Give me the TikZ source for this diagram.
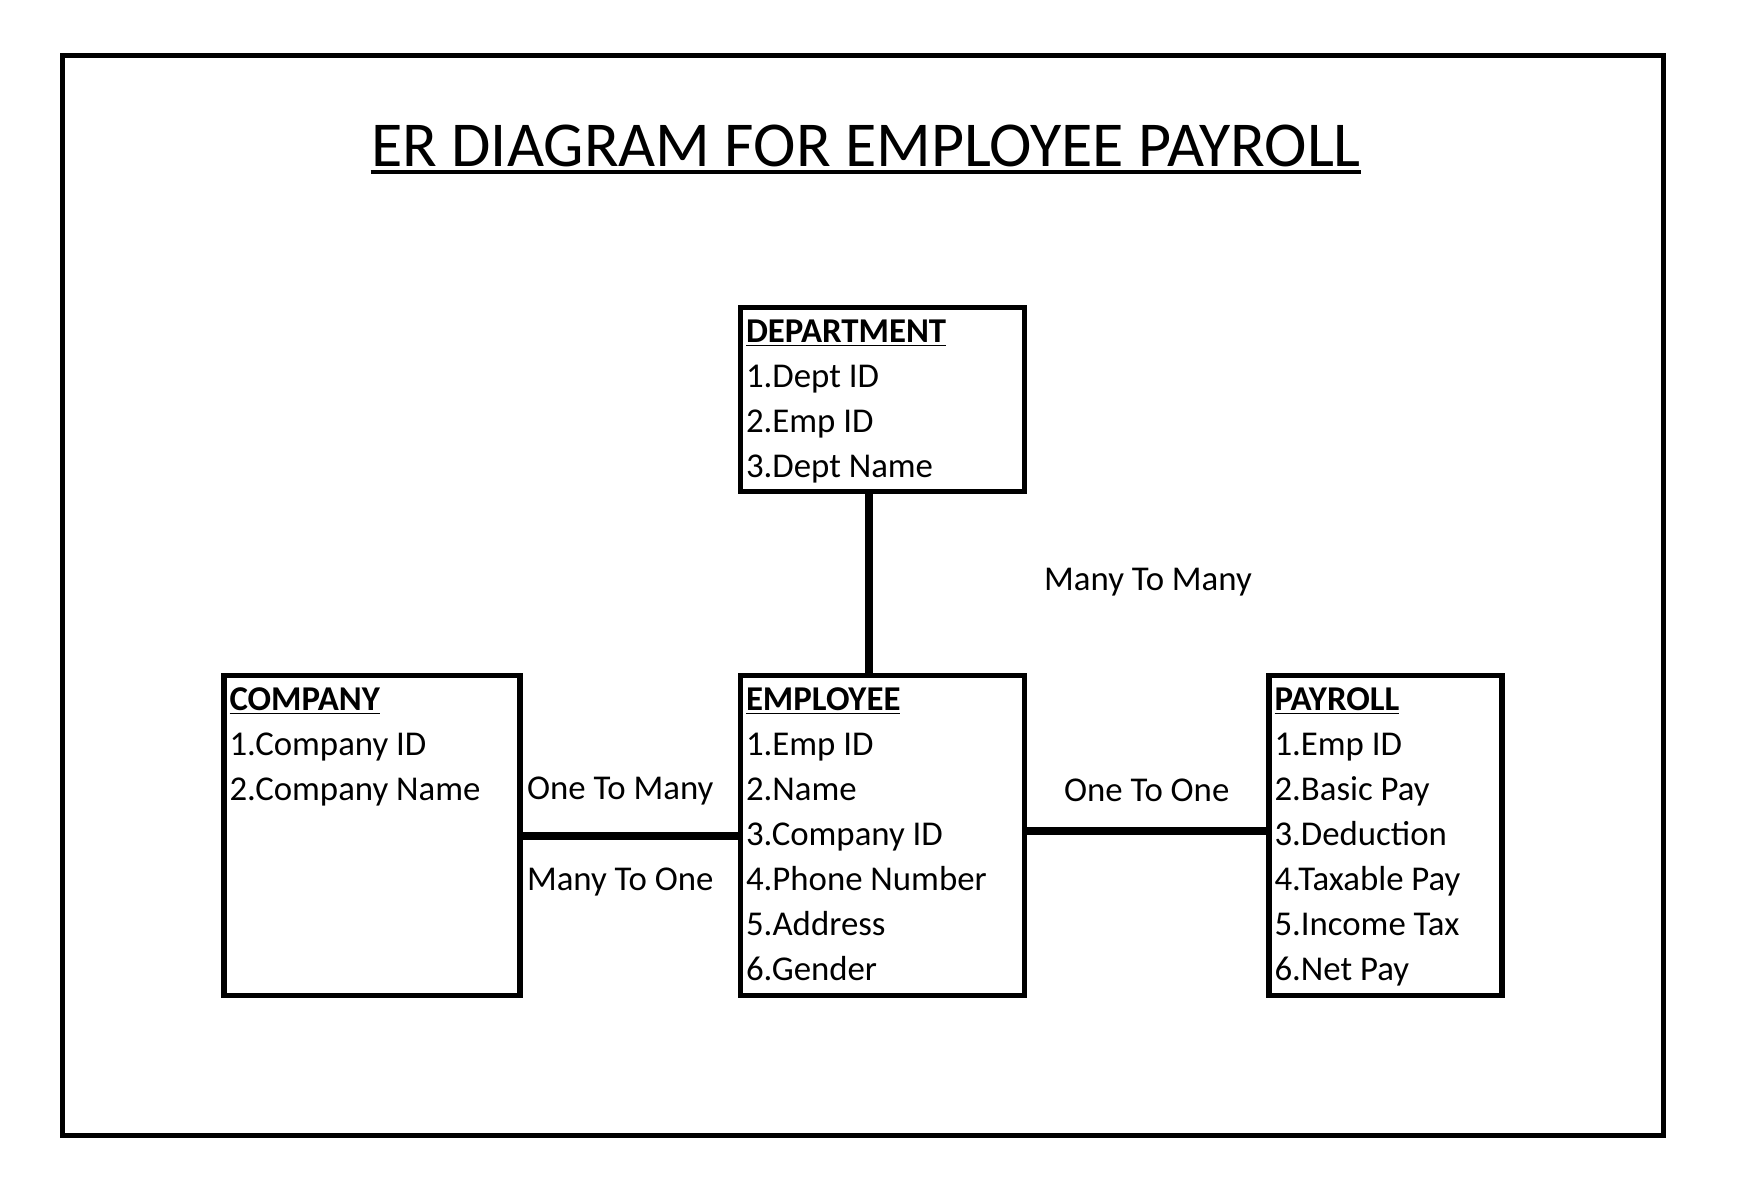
\documentclass[tikz,border=0pt]{standalone}
\usepackage{fontspec}
\setmainfont{Carlito}
\usetikzlibrary{positioning}

\tikzset{
	entity/.style={draw, line width=2.9pt, inner sep=0pt},
	attrs/.style={inner sep=0pt, align=left, font=\fontsize{17.4}{22.5}\selectfont},
	link/.style={line width=4pt},
	rel/.style={font=\fontsize{17.4}{22.5}\selectfont},
}

\begin{document}
\begin{tikzpicture}[x=0.5pt, y=-0.5pt]
	\useasboundingbox (0,0) rectangle (1762,1196);
	\draw[line width=2.5pt] (62,55) rectangle (1663,1135);
	\node [anchor=base, inner sep=0pt, font=\fontsize{32}{40}\selectfont] (title) at (866,166) {ER DIAGRAM FOR EMPLOYEE PAYROLL};
	\draw [line width=1.6pt] ([yshift=-3pt]title.base west) -- ([yshift=-3pt]title.base east);
	
	\node [entity, minimum width=142pt, minimum height=92pt] (dept) at (882.5,399.5) {};
	\node [entity, minimum width=142pt, minimum height=160pt] (emp) at (882.5,835.5) {};
	\node [entity, minimum width=148pt, minimum height=160pt] (comp) at (372,835.5) {};
	\node [entity, minimum width=116.5pt, minimum height=160pt] (pay) at (1385.5,835.5) {};
	
	\node [attrs, below right=7.5pt and 4pt of dept.north west] (deptattr) {\underline{\textbf{DEPARTMENT}}\\1.Dept ID\\2.Emp ID\\3.Dept Name};
	\node [attrs, below right=7.5pt and 4pt of emp.north west] (empattr) {\underline{\textbf{EMPLOYEE}}\\1.Emp ID\\2.Name\\3.Company ID\\4.Phone Number\\5.Address\\6.Gender};
	\node [attrs, below right=7.5pt and 4pt of comp.north west] (compattr) {\underline{\textbf{COMPANY}}\\1.Company ID\\2.Company Name};
	\node [attrs, below right=7.5pt and 4pt of pay.north west] (payattr) {\underline{\textbf{PAYROLL}}\\1.Emp ID\\2.Basic Pay\\3.Deduction\\4.Taxable Pay\\5.Income Tax\\6.Net Pay};
	
	\draw [link] ([xshift=-6.75pt]dept.south) -- ([xshift=-6.75pt]emp.north);
	\draw [link] (comp.east) -- node[rel, xshift=-5pt, yshift=22.5pt] {One To Many} node[rel, xshift=-5pt, yshift=-23pt] {Many To One} (emp.west);
	\draw [link] ([yshift=2.5pt]emp.east) -- node[rel, yshift=20pt] {One To One} ([yshift=2.5pt]pay.west);
	\node [rel] (m2m) at (1148,582) {Many To Many};
	
\end{tikzpicture}
\end{document}
